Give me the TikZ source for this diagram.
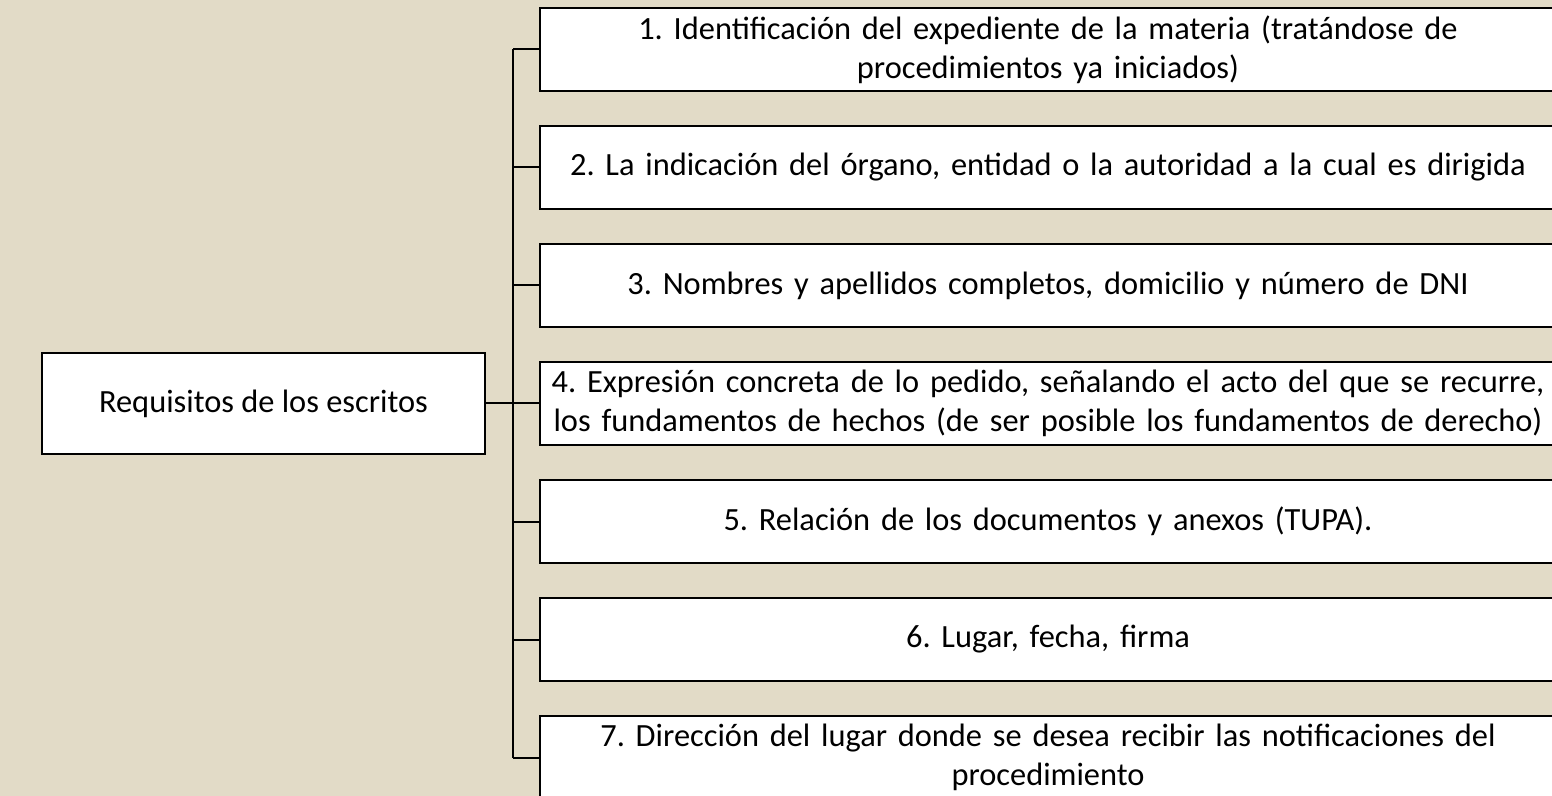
\documentclass[tikz,border=0pt]{standalone}
\usepackage{fontspec}
\setmainfont{Carlito}
\usetikzlibrary{positioning}

\definecolor{paper}{RGB}{226,219,199}
\tikzset{
  box/.style={draw, line width=1pt, fill=white, align=center, inner sep=0pt,
    font=\fontsize{16.2}{19.5}\selectfont\frenchspacing},
  item/.style={box, minimum width=508pt, minimum height=41.5pt, text width=508pt},
  link/.style={line width=1pt}
}

\begin{document}
\begin{tikzpicture}[x=0.5pt, y=-0.5pt]
            \fill[paper] (0,0) rectangle (1552,796);
            \clip (0,0) rectangle (1552,796);
            \node (req) at (263.5,403.5) [box, minimum width=221.5pt, minimum height=50.5pt] {Requisitos de los escritos};
            \node (r1) at (1048,49.5) [item] {1. Identificación del expediente de la materia (tratándose de\\procedimientos ya iniciados)};
            \node (r2) at (1048,167.5) [item] {2. La indicación del órgano, entidad o la autoridad a la cual es dirigida};
            \node (r3) at (1048,285.5) [item] {3. Nombres y apellidos completos, domicilio y número de DNI};
            \node (r4) at (1048,403.5) [item] {4. Expresión concreta de lo pedido, señalando el acto del que se recurre,\\los fundamentos de hechos (de ser posible los fundamentos de derecho)};
            \node (r5) at (1048,521.5) [item] {5. Relación de los documentos y anexos (TUPA).};
            \node (r6) at (1048,639.5) [item] {6. Lugar, fecha, firma};
            \node (r7) at (1048,757.5) [item] {7. Dirección del lugar donde se desea recibir las notificaciones del\\procedimiento};
            \coordinate (bus) at (513,403.5);

            \draw [link] (req) -- (bus);
            \draw [link] (bus |- r1.west) -- (bus |- r7.west);
            \foreach \i in {1,...,7}
              \draw [link] (bus |- r\i.west) -- (r\i.west);
        \end{tikzpicture}
\end{document}
